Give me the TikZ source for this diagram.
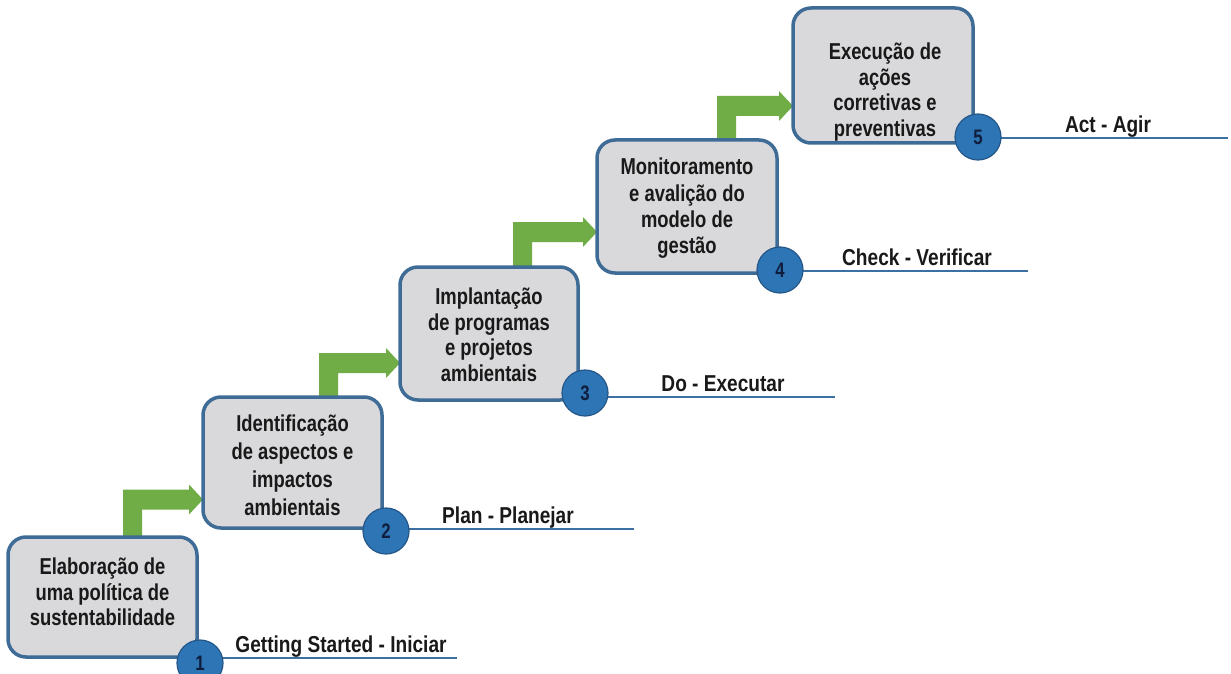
\documentclass[tikz,border=0pt]{standalone}
\usepackage{fontspec}
\setmainfont{Liberation Sans}[FakeStretch=0.8]
\newfontfamily\labelfont{Liberation Sans}[FakeStretch=0.83]
\usetikzlibrary{calc}
\definecolor{boxborder}{RGB}{62,108,150}
\definecolor{boxfill}{RGB}{217,217,219}
\definecolor{flowgreen}{RGB}{112,173,71}
\definecolor{circfill}{RGB}{46,117,182}
\definecolor{circedge}{RGB}{37,86,136}
\definecolor{linecol}{RGB}{60,112,162}
\definecolor{txtcol}{RGB}{25,25,25}
\definecolor{numcol}{RGB}{15,30,60}
\newcommand\flowarrow[3]{%
  \fill[flow] let \p1=(#1.north), \p2=(#2.west), \p3=(#3) in
    (\x3,\y1) -- (\x3,\y3+10pt) -- (\x2-14pt,\y3+10pt) -- (\x2-14pt,\y3+15pt)
    -- (\x2,\y3) -- (\x2-14pt,\y3-15pt) -- (\x2-14pt,\y3-10pt)
    -- (\x3+19pt,\y3-10pt) -- (\x3+19pt,\y1) -- cycle;}
\begin{document}
\begin{tikzpicture}[x=1pt,y=-1pt,
  stepbox/.style={rectangle, draw=boxborder, fill=boxfill, line width=3.5pt, rounded corners=18pt, inner sep=0pt},
  steptext/.style={align=center, font=\fontsize{23}{25.5}\selectfont\bfseries, text=txtcol, inner sep=0pt},
  stepnum/.style={circle, fill=circfill, draw=circedge, line width=1.2pt, minimum size=46pt, inner sep=0pt, font=\fontsize{21}{21}\selectfont\bfseries, text=numcol},
  stepline/.style={draw=linecol, line width=2pt},
  steplabel/.style={anchor=base, inner sep=0pt, font=\labelfont\fontsize{23}{25}\selectfont\bfseries, text=txtcol},
  flow/.style={fill=flowgreen}]
\fill[white] (0,0) rectangle (1231,674);
\useasboundingbox (0,0) rectangle (1231,674);

% boxes (shapes only)
\path
  (102.5,597) node[stepbox, minimum width=185.5pt, minimum height=116.5pt] (b1) {}
  (292.5,462.5) node[stepbox, minimum width=175.5pt, minimum height=127.5pt] (b2) {}
  (489,333.5) node[stepbox, minimum width=174.5pt, minimum height=129.5pt] (b3) {}
  (687,206.5) node[stepbox, minimum width=176.5pt, minimum height=129.5pt] (b4) {}
  (883,75.5) node[stepbox, minimum width=176.5pt, minimum height=131.5pt] (b5) {};

% arrow reference points (stem left x, bar centre y)
\coordinate (a1) at (123,499.5);
\coordinate (a2) at (319,363);
\coordinate (a3) at (513,232);
\coordinate (a4) at (717,106);
\flowarrow{b1}{b2}{a1}
\flowarrow{b2}{b3}{a2}
\flowarrow{b3}{b4}{a3}
\flowarrow{b4}{b5}{a4}

% redraw boxes on top of arrow stems
\foreach \b in {b1,b2,b3,b4,b5}{
  \draw[draw=boxborder, fill=boxfill, line width=3.5pt, rounded corners=18pt]
    (\b.south west) rectangle (\b.north east);
}

% box texts
\node[steptext] (t1) at (102.5,592) {Elaboração de\\uma política de\\sustentabilidade};
\node[steptext, font=\fontsize{23}{28}\selectfont\bfseries] (t2) at (292.5,465) {Identificação\\de aspectos e\\impactos\\ambientais};
\node[steptext] (t3) at (489,335) {Implantação\\de programas\\e projetos\\ambientais};
\node[steptext, font=\fontsize{23}{26.3}\selectfont\bfseries] (t4) at (687,208.5) {Monitoramento\\e avalição do\\modelo de\\gestão};
\node[steptext] (t5) at (885,92) {Execução de\\ações\\corretivas e\\preventivas};

% line end points
\coordinate (l1) at (457,658);
\coordinate (l2) at (634,529);
\coordinate (l3) at (835,397);
\coordinate (l4) at (1028,271);
\coordinate (l5) at (1228,138);

% circle positions
\coordinate (p1) at (200,663);
\coordinate (p2) at (386,531);
\coordinate (p3) at (585,393);
\coordinate (p4) at (780,270);
\coordinate (p5) at (978,137);

\draw[stepline] (p1 |- l1) -- (l1);
\draw[stepline] (p2 |- l2) -- (l2);
\draw[stepline] (p3 |- l3) -- (l3);
\draw[stepline] (p4 |- l4) -- (l4);
\draw[stepline] (p5 |- l5) -- (l5);

\node[stepnum] (c1) at (p1) {1};
\node[stepnum] (c2) at (p2) {2};
\node[stepnum] (c3) at (p3) {3};
\node[stepnum] (c4) at (p4) {4};
\node[stepnum] (c5) at (p5) {5};

\node[steplabel] (g1) at (341,652) {Getting Started - Iniciar};
\node[steplabel] (g2) at (508,523) {Plan - Planejar};
\node[steplabel] (g3) at (723,391) {Do - Executar};
\node[steplabel] (g4) at (917,265) {Check - Verificar};
\node[steplabel] (g5) at (1108,132) {Act - Agir};
\end{tikzpicture}
\end{document}
